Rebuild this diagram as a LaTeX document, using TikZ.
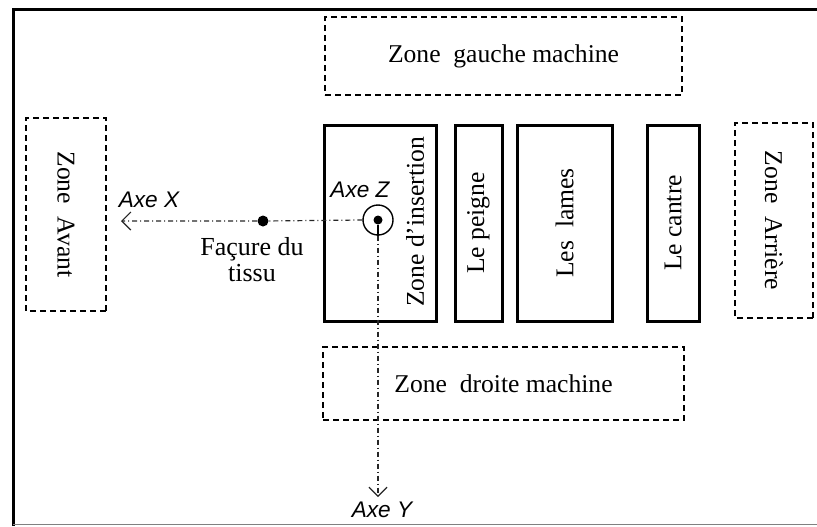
\documentclass[tikz,border=0pt]{standalone}
\usepackage{fontspec}
\setmainfont{Liberation Serif}
\newfontfamily\axefont{Liberation Sans}
\usetikzlibrary{arrows.meta}
\begin{document}
\begin{tikzpicture}[x=0.5pt,y=-0.5pt,
  zone/.style={draw,dash pattern=on 3pt off 2pt,line width=0.9pt,inner sep=0pt,font=\fontsize{12.8}{14}\selectfont},
  organe/.style={draw,line width=1.5pt,inner sep=0pt,font=\fontsize{12.8}{14}\selectfont},
  axe/.style={draw=gray!30!black,line width=0.6pt,dash pattern=on 2.5pt off 1.5pt on 0.5pt off 1.5pt},
  axelabel/.style={font=\axefont\itshape\fontsize{11.3}{13}\selectfont},
  pointe/.style={-{Straight Barb[length=4.5pt,width=9pt]}}]
  \useasboundingbox (0,0) rectangle (817,526);
  % cadre
  \draw[line width=1.5pt] (13,526) -- (13,9) -- (817,9);
  \draw[gray,line width=0.5pt] (13,524.5) -- (817,524.5);
  % zones
  \node[zone,minimum width=178.5pt,minimum height=39pt] (gauche) at (503.5,56) {Zone~~gauche machine};
  \node[zone,minimum width=180.5pt,minimum height=36.5pt] (droite) at (503.5,383.5) {Zone~~droite machine};
  \node[zone,rotate=-90,minimum width=96.5pt,minimum height=40pt] (avant) at (66,214.5) {Zone~~Avant};
  \node[zone,rotate=-90,minimum width=97.5pt,minimum height=39pt] (arriere) at (774,220.5) {Zone~~Arrière};
  % organes
  \node[organe,minimum width=56pt,minimum height=98pt] (insertion) at (380,223) {};
  \node[rotate=90,font=\fontsize{12.8}{14}\selectfont] (insertionlabel) at (415,222) {Zone d’insertion};
  \node[organe,rotate=90,minimum width=98pt,minimum height=23.5pt] (peigne) at (478.5,223) {Le peigne};
  \node[organe,rotate=90,minimum width=98pt,minimum height=47.5pt] (lames) at (564.5,223) {Les~~lames};
  \node[organe,rotate=90,minimum width=98pt,minimum height=26pt] (cantre) at (673,223) {Le cantre};
  % axes
  \node[circle,draw,line width=0.7pt,minimum size=15pt,inner sep=0pt] (axez) at (378,220) {};
  \node[circle,fill,inner sep=0pt,minimum size=4.5pt] (centrez) at (axez.center) {};
  \node[circle,fill,inner sep=0pt,minimum size=5.5pt] (facure) at (263,221) {};
  \coordinate (finx) at (121,221);
  \coordinate (finy) at (378,497);
  \draw[axe,pointe] (axez.west) -- (facure) -- (finx);
  \draw[line width=0.6pt] (centrez) -- (axez.south);
  \draw[axe,pointe] (axez.south) -- (finy);
  \node[axelabel] (labelx) at (149,200) {Axe X};
  \node[axelabel] (labelz) at (360,190) {Axe Z};
  \node[axelabel] (labely) at (382,510) {Axe Y};
  \node[align=center,font=\fontsize{13}{13}\selectfont] (labelfacure) at (252,260) {Façure du\\tissu};
\end{tikzpicture}
\end{document}
